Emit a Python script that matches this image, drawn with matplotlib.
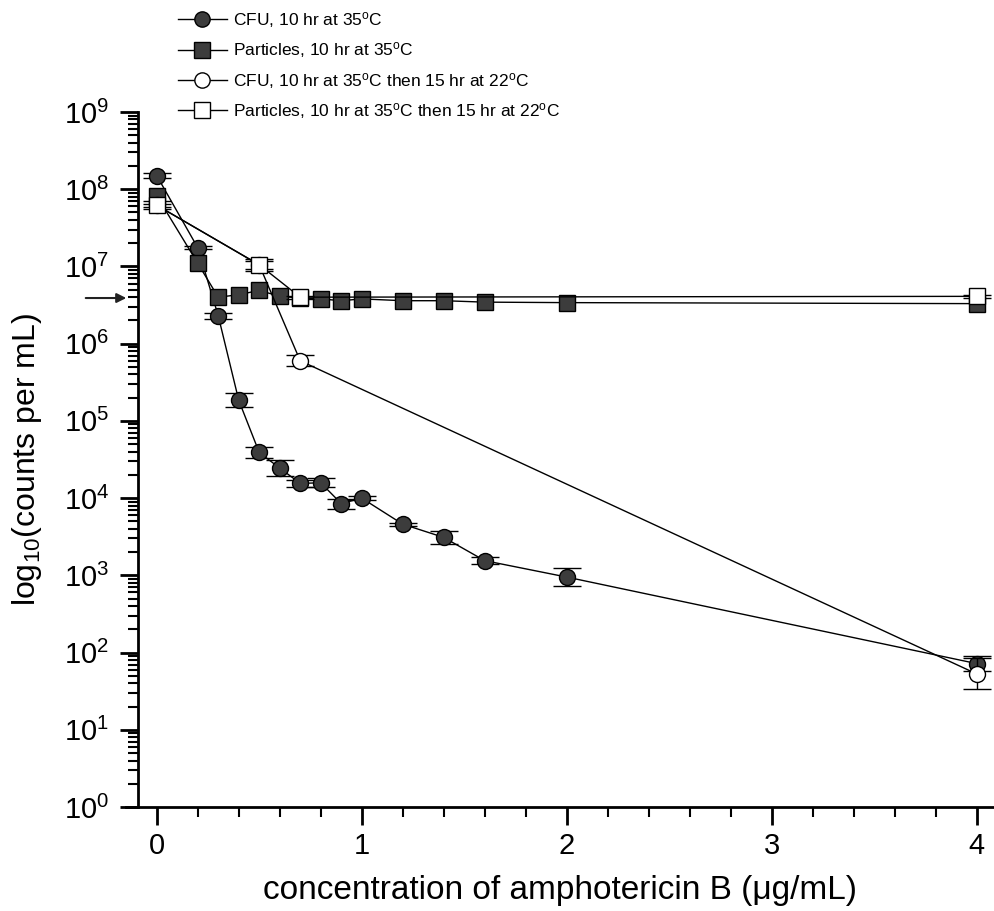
import matplotlib
matplotlib.use("Agg")
import matplotlib.pyplot as plt
import numpy as np
from matplotlib.lines import Line2D
from matplotlib import font_manager

# --- data -------------------------------------------------------------
# CFU, 10 hr at 35 C
cfu35_x = [0.0, 0.2, 0.3, 0.4, 0.5, 0.6, 0.7, 0.8, 0.9, 1.0, 1.2, 1.4, 1.6, 2.0, 4.0]
cfu35_y = [1.5e8, 1.75e7, 2.3e6, 1.85e5, 3.9e4, 2.45e4, 1.55e4, 1.58e4, 8.5e3, 1.0e4,
           4.6e3, 3.1e3, 1.55e3, 9.5e2, 72]
cfu35_err = [0.03, 0.02, 0.04, 0.09, 0.07, 0.10, 0.05, 0.06, 0.065, 0.025,
             0.02, 0.085, 0.05, 0.12, 0.10]          # log10 half-range

# Particles, 10 hr at 35 C
part35_x = [0.0, 0.2, 0.3, 0.4, 0.5, 0.6, 0.7, 0.8, 0.9, 1.0, 1.2, 1.4, 1.6, 2.0, 4.0]
part35_y = [8.2e7, 1.1e7, 4.0e6, 4.3e6, 4.9e6, 4.1e6, 3.9e6, 3.8e6, 3.6e6, 3.8e6,
            3.6e6, 3.6e6, 3.45e6, 3.4e6, 3.3e6]

# CFU, 10 hr at 35 C then 15 hr at 22 C
cfu22_x = [0.0, 0.5, 0.7, 4.0]
cfu22_y = [6.2e7, 1.05e7, 6.0e5, 53]
cfu22_err = [0.05, 0.05, 0.07, 0.2]

# Particles, 10 hr at 35 C then 15 hr at 22 C
part22_x = [0.0, 0.5, 0.7, 4.0]
part22_y = [6.2e7, 1.05e7, 4.0e6, 4.1e6]
part22_err = [0.02, 0.075, 0.02, 0.02]

labels = ["CFU, 10 hr at 35$^{\\mathregular{o}}$C",
          "Particles, 10 hr at 35$^{\\mathregular{o}}$C",
          "CFU, 10 hr at 35$^{\\mathregular{o}}$C then 15 hr at 22$^{\\mathregular{o}}$C",
          "Particles, 10 hr at 35$^{\\mathregular{o}}$C then 15 hr at 22$^{\\mathregular{o}}$C"]

arrow_level = 3.9e6
xticks = [0, 1, 2, 3, 4]

# --- style ------------------------------------------------------------
installed = {f.name for f in font_manager.fontManager.ttflist}
narrow = "Liberation Sans Narrow" if "Liberation Sans Narrow" in installed else "Liberation Sans"
plt.rcParams["font.family"] = ["Liberation Sans", "DejaVu Sans"]
plt.rcParams["mathtext.default"] = "regular"

DARK = "#3c3c3c"

fig = plt.figure(figsize=(9.95, 9.11), dpi=100)
W, H = 995, 911
ax = fig.add_axes([126 / W, (H - 807) / H, (995 - 126) / W, (807 - 112) / H])


def asym(y, e):
    y = np.asarray(y, float)
    f = 10 ** np.asarray(e, float)
    return [y - y / f, y * f - y]


common = dict(color="black", lw=1.0, elinewidth=1.0, capsize=10, capthick=1.0,
              markersize=11.5, markeredgecolor="black", markeredgewidth=1.0)

ax.errorbar(cfu35_x, cfu35_y, yerr=asym(cfu35_y, cfu35_err), fmt="-o",
            markerfacecolor=DARK, zorder=3, **common)
ax.plot(part35_x, part35_y, "-s", color="black", lw=1.0, markersize=11.5,
        markerfacecolor=DARK, markeredgecolor="black", zorder=4)
ax.errorbar(cfu22_x, cfu22_y, yerr=asym(cfu22_y, cfu22_err), fmt="-o",
            markerfacecolor="white", zorder=5, **common)
ax.errorbar(part22_x, part22_y, yerr=asym(part22_y, part22_err), fmt="-s",
            markerfacecolor="white", zorder=6, **common)

ax.set_yscale("log")
ax.set_ylim(1, 1e9)
ax.set_xlim(-0.15, 4.09)
ax.set_yticks([10.0 ** k for k in range(10)])
ax.set_xticks(xticks)
ax.set_xticks(np.arange(0, 4.01, 0.2), minor=True)

for s in ("top", "right"):
    ax.spines[s].set_visible(False)
ax.spines["left"].set_position(("data", -0.09))
ax.spines["left"].set_linewidth(2.0)
ax.spines["bottom"].set_linewidth(2.0)

ax.tick_params(axis="both", which="major", direction="out", length=13, width=2,
               labelsize=21, pad=5)
ax.tick_params(axis="both", which="minor", direction="out", length=7, width=1.5)
ax.tick_params(axis="y", which="major", pad=8)

ax.set_xlabel("concentration of amphotericin B (\u03bcg/mL)", fontsize=24, labelpad=11)
ax.set_ylabel("log$_{10}$(counts per mL)", fontsize=23, labelpad=14)

# marker for the particle plateau level
ax.annotate("", xy=(-0.135, arrow_level), xytext=(-0.36, arrow_level),
            xycoords="data", annotation_clip=False,
            arrowprops=dict(arrowstyle="-|>", color="#222222", lw=1.5,
                            mutation_scale=14))

handles = [
    Line2D([], [], color="black", lw=1, marker="o", markersize=11,
           markerfacecolor=DARK, markeredgecolor="black"),
    Line2D([], [], color="black", lw=1, marker="s", markersize=11,
           markerfacecolor=DARK, markeredgecolor="black"),
    Line2D([], [], color="black", lw=1, marker="o", markersize=11,
           markerfacecolor="white", markeredgecolor="black"),
    Line2D([], [], color="black", lw=1, marker="s", markersize=11,
           markerfacecolor="white", markeredgecolor="black"),
]
fig.legend(handles, labels, loc="upper left", bbox_to_anchor=(178 / W, 1 - 10 / H),
           frameon=False, borderpad=0, borderaxespad=0, handlelength=2.8,
           handletextpad=0.35, labelspacing=0.6,
           prop=dict(family=[narrow, "DejaVu Sans"], size=12.5))

fig.savefig("out.png", dpi=100)
